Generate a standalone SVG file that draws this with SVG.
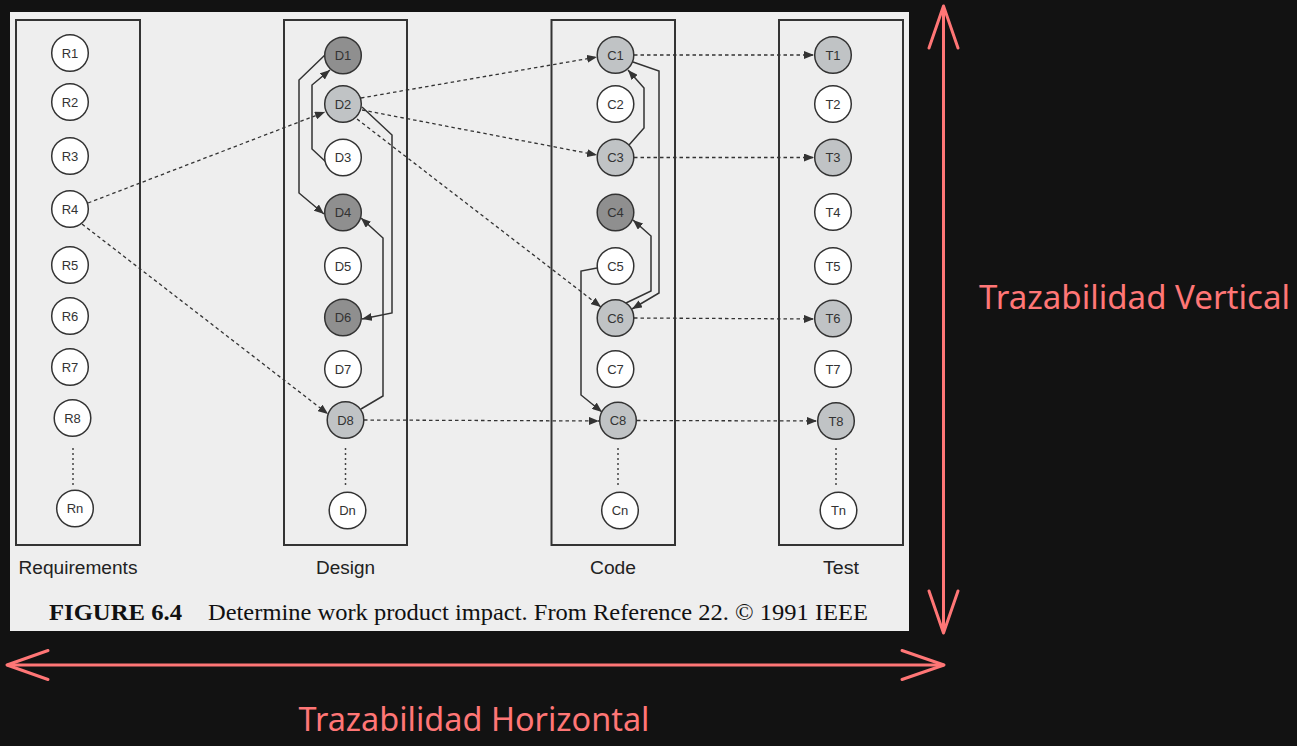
<svg xmlns="http://www.w3.org/2000/svg" width="1297" height="746" viewBox="0 0 1297 746">
<defs>
<style>
.col{fill:none;stroke:#333;stroke-width:2}
.n circle{stroke:#333;stroke-width:1.5;fill:#fff}
.n.g circle{fill:#c0c3c5}
.n.d circle{fill:#8f8f8f}
.n text{font-family:"Liberation Sans",Arial,sans-serif;font-size:13px;fill:#333;text-anchor:middle;dominant-baseline:central}
.dash{fill:none;stroke:#333;stroke-width:1.3;stroke-dasharray:3.5 3;marker-end:url(#ah)}
.sol{fill:none;stroke:#333;stroke-width:1.5;stroke-linejoin:miter;marker-end:url(#ah)}
.dots{stroke:#444;stroke-width:1.5;stroke-dasharray:2 3}
.lab{font-family:"Liberation Sans",Arial,sans-serif;font-size:18px;fill:#222;text-anchor:middle}
.cap{font-family:"Liberation Serif","Times New Roman",serif;font-size:23px;fill:#111}
.red{fill:none;stroke:#ff7676;stroke-width:3;stroke-linecap:round;stroke-linejoin:round}
.rt{font-family:"Noto Sans","Open Sans",sans-serif;font-size:32px;fill:#ff7676}
</style>
<marker id="ah" viewBox="0 0 10 8" refX="10" refY="4" markerWidth="10" markerHeight="8" markerUnits="userSpaceOnUse" orient="auto">
<path d="M0,0 L10,4 L0,8 z" fill="#333"/>
</marker>
</defs>
<rect x="0" y="0" width="1297" height="746" fill="#121212"/>
<rect x="10" y="12" width="899" height="619" fill="#eeeeee"/>
<g id="columns">
<rect class="col" x="16" y="20" width="124" height="525"/>
<rect class="col" x="284" y="20" width="123" height="525"/>
<rect class="col" x="551.5" y="20" width="123.5" height="525"/>
<rect class="col" x="779" y="20" width="124" height="525"/>
<line class="dots" x1="73" y1="448" x2="73" y2="486"/>
<line class="dots" x1="345.5" y1="448" x2="345.5" y2="486"/>
<line class="dots" x1="618" y1="448" x2="618" y2="486"/>
<line class="dots" x1="836" y1="448" x2="836" y2="486"/>
</g>
<g id="connectors">
<line class="dash" x1="88" y1="203" x2="325" y2="112"/>
<line class="dash" x1="82" y1="224" x2="328" y2="414"/>
<line class="dash" x1="361" y1="98" x2="597" y2="57"/>
<line class="dash" x1="362" y1="110" x2="597" y2="155"/>
<line class="dash" x1="357" y1="119" x2="601" y2="307"/>
<line class="dash" x1="364" y1="420" x2="599" y2="421"/>
<line class="dash" x1="634" y1="55" x2="814" y2="55"/>
<line class="dash" x1="634" y1="157.5" x2="814" y2="157.5"/>
<line class="dash" x1="634" y1="318" x2="814" y2="319"/>
<line class="dash" x1="637" y1="420.5" x2="817" y2="421"/>
<polyline class="sol" points="326,54 299,80 299,193 324,214"/>
<polyline class="sol" points="326,162 312,149 312,85 330,70"/>
<polyline class="sol" points="362,107 392,135 392,313 362,319"/>
<polyline class="sol" points="361,409 383,396 383,238 361,218"/>
<polyline class="sol" points="629,145 644,128 644,88 628,70"/>
<polyline class="sol" points="633,62 659,71 659,293 632,309"/>
<polyline class="sol" points="626,303 651,291 651,236 633,220"/>
<polyline class="sol" points="597,268 581,271 581,395 602,412"/>
</g>
<g id="R1" class="n"><circle cx="70" cy="53" r="18.3"/><text x="70" y="53">R1</text></g>
<g id="R2" class="n"><circle cx="70" cy="102" r="18.3"/><text x="70" y="102">R2</text></g>
<g id="R3" class="n"><circle cx="70" cy="156" r="18.3"/><text x="70" y="156">R3</text></g>
<g id="R4" class="n"><circle cx="70" cy="209" r="18.3"/><text x="70" y="209">R4</text></g>
<g id="R5" class="n"><circle cx="70" cy="265" r="18.3"/><text x="70" y="265">R5</text></g>
<g id="R6" class="n"><circle cx="70" cy="316" r="18.3"/><text x="70" y="316">R6</text></g>
<g id="R7" class="n"><circle cx="70" cy="367" r="18.3"/><text x="70" y="367">R7</text></g>
<g id="R8" class="n"><circle cx="72.5" cy="418" r="18.3"/><text x="72.5" y="418">R8</text></g>
<g id="Rn" class="n"><circle cx="75" cy="508.5" r="18.3"/><text x="75" y="508.5">Rn</text></g>
<g id="D1" class="n d"><circle cx="343" cy="55.5" r="18.3"/><text x="343" y="55.5">D1</text></g>
<g id="D2" class="n g"><circle cx="343" cy="104" r="18.3"/><text x="343" y="104">D2</text></g>
<g id="D3" class="n"><circle cx="343" cy="157.5" r="18.3"/><text x="343" y="157.5">D3</text></g>
<g id="D4" class="n d"><circle cx="343" cy="212.5" r="18.3"/><text x="343" y="212.5">D4</text></g>
<g id="D5" class="n"><circle cx="343" cy="266" r="18.3"/><text x="343" y="266">D5</text></g>
<g id="D6" class="n d"><circle cx="343" cy="317.5" r="18.3"/><text x="343" y="317.5">D6</text></g>
<g id="D7" class="n"><circle cx="343" cy="369" r="18.3"/><text x="343" y="369">D7</text></g>
<g id="D8" class="n g"><circle cx="345.5" cy="420" r="18.3"/><text x="345.5" y="420">D8</text></g>
<g id="Dn" class="n"><circle cx="347.5" cy="510.5" r="18.3"/><text x="347.5" y="510.5">Dn</text></g>
<g id="C1" class="n g"><circle cx="615.5" cy="55" r="18.3"/><text x="615.5" y="55">C1</text></g>
<g id="C2" class="n"><circle cx="615.5" cy="104" r="18.3"/><text x="615.5" y="104">C2</text></g>
<g id="C3" class="n g"><circle cx="615.5" cy="157.5" r="18.3"/><text x="615.5" y="157.5">C3</text></g>
<g id="C4" class="n d"><circle cx="615.5" cy="212.5" r="18.3"/><text x="615.5" y="212.5">C4</text></g>
<g id="C5" class="n"><circle cx="615.5" cy="266" r="18.3"/><text x="615.5" y="266">C5</text></g>
<g id="C6" class="n g"><circle cx="615.5" cy="318" r="18.3"/><text x="615.5" y="318">C6</text></g>
<g id="C7" class="n"><circle cx="615.5" cy="369" r="18.3"/><text x="615.5" y="369">C7</text></g>
<g id="C8" class="n g"><circle cx="618" cy="420.5" r="18.3"/><text x="618" y="420.5">C8</text></g>
<g id="Cn" class="n"><circle cx="620" cy="510.5" r="18.3"/><text x="620" y="510.5">Cn</text></g>
<g id="T1" class="n g"><circle cx="833" cy="55" r="18.3"/><text x="833" y="55">T1</text></g>
<g id="T2" class="n"><circle cx="833" cy="104" r="18.3"/><text x="833" y="104">T2</text></g>
<g id="T3" class="n g"><circle cx="833" cy="157.5" r="18.3"/><text x="833" y="157.5">T3</text></g>
<g id="T4" class="n"><circle cx="833" cy="212" r="18.3"/><text x="833" y="212">T4</text></g>
<g id="T5" class="n"><circle cx="833" cy="266" r="18.3"/><text x="833" y="266">T5</text></g>
<g id="T6" class="n g"><circle cx="833" cy="318.5" r="18.3"/><text x="833" y="318.5">T6</text></g>
<g id="T7" class="n"><circle cx="833" cy="369" r="18.3"/><text x="833" y="369">T7</text></g>
<g id="T8" class="n g"><circle cx="836" cy="421" r="18.3"/><text x="836" y="421">T8</text></g>
<g id="Tn" class="n"><circle cx="838.5" cy="510.5" r="18.3"/><text x="838.5" y="510.5">Tn</text></g>
<g id="labels">
<text class="lab" x="78" y="574" textLength="119" lengthAdjust="spacingAndGlyphs">Requirements</text>
<text class="lab" x="345.5" y="574" textLength="59" lengthAdjust="spacingAndGlyphs">Design</text>
<text class="lab" x="613" y="573.5" textLength="46" lengthAdjust="spacingAndGlyphs">Code</text>
<text class="lab" x="841" y="573.5" textLength="36" lengthAdjust="spacingAndGlyphs">Test</text>
<text class="cap" x="49" y="620" font-weight="bold" textLength="133" lengthAdjust="spacingAndGlyphs">FIGURE 6.4</text>
<text class="cap" x="208" y="620" textLength="660" lengthAdjust="spacingAndGlyphs">Determine work product impact. From Reference 22. © 1991 IEEE</text>
</g>
<g id="vertical-arrow">
<line class="red" x1="943.5" y1="8" x2="943.5" y2="631"/>
<polyline class="red" points="929,48 943.5,6 958,48"/>
<polyline class="red" points="929,591 943.5,633 958,591"/>
<text class="rt" x="979" y="309" textLength="311" lengthAdjust="spacingAndGlyphs">Trazabilidad Vertical</text>
</g>
<g id="horizontal-arrow">
<line class="red" x1="8" y1="665" x2="943" y2="665"/>
<polyline class="red" points="48,650.5 7,665 48,679.5"/>
<polyline class="red" points="902,650.5 944,665 902,679.5"/>
<text class="rt" x="298.5" y="731" textLength="351" lengthAdjust="spacingAndGlyphs">Trazabilidad Horizontal</text>
</g>
</svg>
